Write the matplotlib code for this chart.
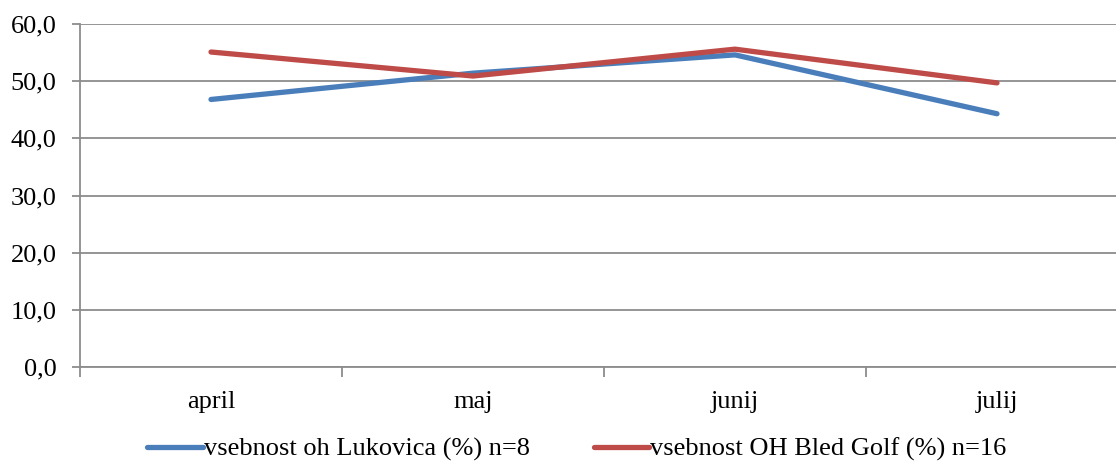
import matplotlib
matplotlib.use('Agg')
import matplotlib.pyplot as plt
from matplotlib.ticker import FixedLocator

months = ['april', 'maj', 'junij', 'julij']
lukovica = [46.8, 51.4, 54.6, 44.3]
bled_golf = [55.1, 50.9, 55.6, 49.7]
y_ticks = [0, 10, 20, 30, 40, 50, 60]

plt.rcParams['font.family'] = ['Liberation Serif', 'DejaVu Serif']
plt.rcParams['font.size'] = 19

fig = plt.figure(figsize=(11.16, 4.63), dpi=100)
ax = fig.add_axes([80 / 1116, 1 - 367 / 463, 1048 / 1116, 343 / 463])

x = list(range(len(months)))
ax.plot(x, lukovica, color='#4a7ebb', lw=3.8, solid_capstyle='round',
        label='vsebnost oh Lukovica (%) n=8')
ax.plot(x, bled_golf, color='#be4b48', lw=3.8, solid_capstyle='round',
        label='vsebnost OH Bled Golf (%) n=16')

ax.set_xlim(-0.5, len(months) - 0.5)
ax.set_ylim(0, 60)
ax.set_yticks(y_ticks)
ax.set_yticklabels([f'{v:.1f}'.replace('.', ',') for v in y_ticks])
ax.set_xticks(x)
ax.set_xticklabels(months)
ax.xaxis.set_minor_locator(FixedLocator([i - 0.5 for i in range(len(months) + 1)]))

grid_col = '#8c8c8c'
ax.yaxis.grid(True, color=grid_col, lw=1.3)
ax.set_axisbelow(True)
for s in ['top', 'right']:
    ax.spines[s].set_visible(False)
for s in ['left', 'bottom']:
    ax.spines[s].set_color(grid_col)
    ax.spines[s].set_linewidth(1.3)

ax.tick_params(axis='y', length=6, color=grid_col, width=1.3, pad=11)
ax.tick_params(axis='x', which='major', length=0, pad=17)
ax.tick_params(axis='x', which='minor', length=7, color=grid_col, width=1.3)

fig.legend(loc='lower center', bbox_to_anchor=(577 / 1116, -0.048), ncol=2,
           frameon=False, handlelength=2.1, handletextpad=0.05, columnspacing=2.4)

fig.savefig('out.png', dpi=100)
